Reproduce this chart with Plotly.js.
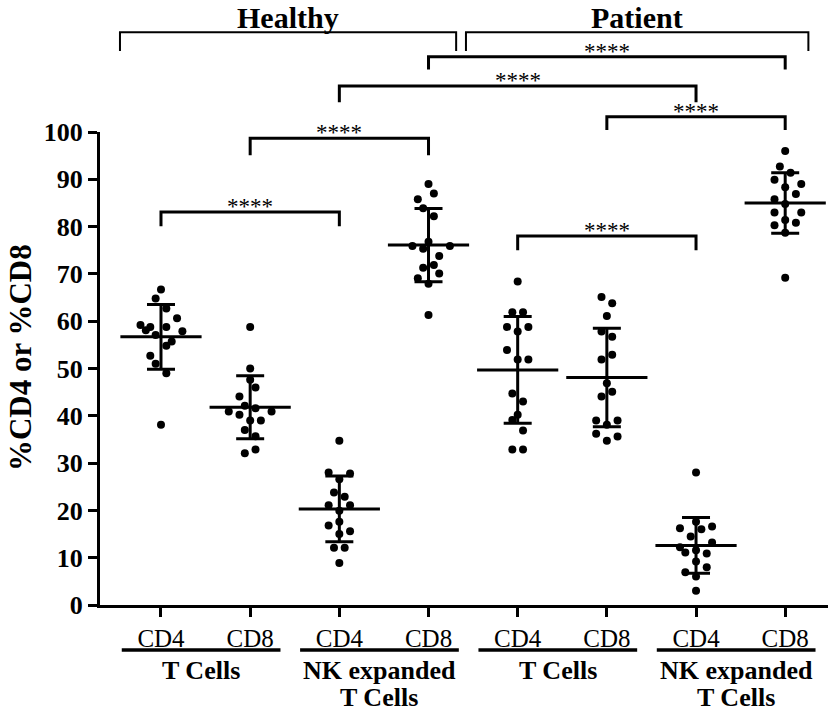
<!DOCTYPE html>
<html>
<head>
<meta charset="utf-8">
<script src="https://cdn.plot.ly/plotly-3.0.1.min.js"></script>
<style>
html,body{margin:0;padding:0;background:#fff;}
#chart{width:840px;height:713px;}
</style>
</head>
<body>
<div id="chart"></div>
<script>
// ---- Data ----
const categories = ['CD4', 'CD8', 'CD4', 'CD8', 'CD4', 'CD8', 'CD4', 'CD8'];
const cellTypesLine1 = ['T Cells', 'NK expanded', 'T Cells', 'NK expanded'];
const cellTypesLine2 = ['', 'T Cells', '', 'T Cells'];
const donorGroups = ['Healthy', 'Patient'];

const healthyTCD4 = [66.7, 64.8, 62.7, 59.2, 58.1, 58.8, 58.8, 60.6, 57.9, 57.1, 55.7, 54.8, 52.7, 51.0, 49.0, 38.1];
const healthyTCD8 = [58.8, 50.0, 47.6, 46.0, 44.1, 42.1, 41.6, 40.9, 40.9, 40.2, 39.0, 39.0, 37.0, 35.7, 32.1, 32.9];
const healthyNKCD4 = [34.7, 28.0, 27.8, 26.6, 23.8, 22.9, 21.1, 21.1, 19.9, 17.6, 16.8, 15.6, 15.0, 12.1, 12.1, 8.9];
const healthyNKCD8 = [89.0, 87.0, 85.8, 83.9, 82.2, 76.8, 75.9, 75.9, 75.3, 73.8, 71.3, 71.9, 70.1, 69.1, 67.9, 61.3];
const patientTCD4 = [68.4, 61.9, 61.9, 58.8, 58.8, 57.8, 53.9, 51.9, 51.9, 44.7, 43.0, 40.2, 39.1, 36.9, 32.9, 32.9];
const patientTCD8 = [65.1, 63.8, 61.1, 57.8, 56.7, 52.9, 51.9, 46.9, 45.1, 44.1, 39.0, 39.0, 38.1, 36.2, 35.6, 34.7];
const patientNKCD4 = [28.0, 17.6, 16.2, 16.0, 16.6, 14.5, 13.2, 12.2, 11.1, 11.6, 10.9, 9.2, 8.0, 6.9, 6.0, 3.0];
const patientNKCD8 = [96.0, 92.7, 91.4, 89.9, 89.0, 88.3, 86.9, 85.8, 84.8, 83.0, 83.0, 81.4, 80.3, 80.8, 78.7, 69.2];

// horizontal scatter offsets of the dots (category units)
const jitterHTCD4 = [0, -0.06, 0.06, -0.23, -0.17, -0.12, 0.06, 0.18, 0.24, -0.06, 0.12, 0.06, -0.12, -0.06, 0.06, 0];
const jitterHTCD8 = [0, 0, 0, 0.06, -0.12, -0.06, 0.06, 0.24, -0.24, -0.12, 0, 0.12, -0.06, 0.06, -0.06, 0.06];
const jitterHNCD4 = [0, -0.12, 0.12, 0, -0.06, 0.06, -0.12, 0.12, 0, 0, -0.12, 0.12, 0, -0.06, 0.06, 0];
const jitterHNCD8 = [0, 0.06, -0.12, -0.06, 0.06, 0, -0.18, 0.24, -0.06, 0.12, -0.06, 0.06, 0.12, -0.12, 0, 0];
const jitterPTCD4 = [0, -0.06, 0.06, -0.12, 0.12, 0, -0.12, 0, 0.12, -0.06, 0.06, 0, -0.06, 0.06, -0.06, 0.06];
const jitterPTCD8 = [-0.06, 0.06, 0, -0.06, 0.06, 0.06, -0.06, 0, 0.06, -0.06, -0.12, 0.12, 0, -0.12, 0.12, 0];
const jitterPNCD4 = [0, 0, -0.18, 0.06, 0.18, -0.06, 0.18, -0.18, -0.12, 0, 0.12, 0, 0.12, -0.12, 0, 0];
const jitterPNCD8 = [0, -0.06, 0.06, -0.12, 0.18, 0, 0.12, -0.12, 0, -0.12, 0.18, 0, -0.12, 0.12, 0, 0];

const groupMeans = [56.7, 41.8, 20.3, 76.1, 49.7, 48.1, 12.6, 85.0];
const groupSDs = [6.85, 6.65, 6.95, 7.75, 11.3, 10.4, 5.9, 6.4];

// significance comparisons: [from category, to category, bar level (%), leg bottom (%)]
const comparisons = [
  [0, 2, 83.1, 80.1],
  [4, 6, 78.0, 75.0],
  [1, 3, 98.7, 95.1],
  [5, 7, 103.2, 100.4],
  [2, 6, 109.7, 106.3],
  [3, 7, 115.9, 113.2]
];
const sigLabel = '****';

// ---- Build chart ----
const groupValues = [healthyTCD4, healthyTCD8, healthyNKCD4, healthyNKCD8, patientTCD4, patientTCD8, patientNKCD4, patientNKCD8];
const groupJitter = [jitterHTCD4, jitterHTCD8, jitterHNCD4, jitterHNCD8, jitterPTCD4, jitterPTCD8, jitterPNCD4, jitterPNCD8];
const catIdx = categories.map((_, i) => i);

const SERIF = 'Liberation Serif, Times New Roman, serif';
const traces = [];
groupValues.forEach((vals, g) => {
  traces.push({
    type: 'scatter', mode: 'markers',
    x: vals.map((_, k) => g + groupJitter[g][k]),
    y: vals,
    marker: {color: '#000', size: 8},
    cliponaxis: false,
    hoverinfo: 'y', showlegend: false
  });
});
traces.push({
  type: 'scatter', mode: 'markers',
  x: catIdx, y: groupMeans,
  marker: {symbol: 'line-ew', size: 58, color: '#000', line: {color: '#000', width: 3}},
  error_y: {type: 'data', array: groupSDs, visible: true, color: '#000', thickness: 3, width: 14},
  cliponaxis: false, showlegend: false, hoverinfo: 'y'
});

const YMAX = 100;
const toPaper = v => v / YMAX;
const shapes = [];
const annotations = [];

comparisons.forEach(([a, b, lvl, leg]) => {
  shapes.push({
    type: 'path', xref: 'x', yref: 'paper',
    path: `M ${a},${toPaper(leg)} L ${a},${toPaper(lvl)} L ${b},${toPaper(lvl)} L ${b},${toPaper(leg)}`,
    line: {color: '#000', width: 3}
  });
  annotations.push({
    xref: 'x', yref: 'paper', x: (a + b) / 2, y: toPaper(lvl),
    text: sigLabel, showarrow: false, yanchor: 'bottom', yshift: -9,
    font: {family: SERIF, size: 23, color: '#000'}
  });
});

// Healthy / Patient brackets
const donorSpans = [[-0.46, 3.31], [3.42, 7.26]];
donorSpans.forEach(([a, b], i) => {
  shapes.push({
    type: 'path', xref: 'x', yref: 'paper',
    path: `M ${a},${toPaper(117.1)} L ${a},${toPaper(121.1)} L ${b},${toPaper(121.1)} L ${b},${toPaper(117.1)}`,
    line: {color: '#000', width: 2}
  });
  annotations.push({
    xref: 'x', yref: 'paper', x: (a + b) / 2, y: 1.243,
    text: '<b>' + donorGroups[i] + '</b>', showarrow: false, yanchor: 'middle',
    font: {family: SERIF, size: 30, color: '#000'}
  });
});

// cell-type underlines and labels
cellTypesLine1.forEach((t, p) => {
  const mid = 2 * p + 0.45;
  shapes.push({
    type: 'line', xref: 'x', yref: 'paper',
    x0: mid - 0.89, x1: mid + 0.89, y0: -0.0951, y1: -0.0951,
    line: {color: '#000', width: 3.5}
  });
  annotations.push({
    xref: 'x', yref: 'paper', x: mid, y: -0.139,
    text: '<b>' + t + '</b>', showarrow: false, yanchor: 'middle',
    font: {family: SERIF, size: 26, color: '#000'}
  });
  if (cellTypesLine2[p]) {
    annotations.push({
      xref: 'x', yref: 'paper', x: mid, y: -0.195,
      text: '<b>' + cellTypesLine2[p] + '</b>', showarrow: false, yanchor: 'middle',
      font: {family: SERIF, size: 26, color: '#000'}
    });
  }
});

// y axis title
annotations.push({
  xref: 'paper', yref: 'paper', x: -0.11, y: 0.524,
  text: '<b>%CD4 or %CD8</b>', showarrow: false, textangle: -90,
  xanchor: 'center', yanchor: 'middle',
  font: {family: SERIF, size: 31, color: '#000'}
});

const layout = {
  width: 840, height: 713,
  margin: {l: 100, r: 12, t: 132, b: 108},
  paper_bgcolor: '#fff', plot_bgcolor: '#fff',
  showlegend: false,
  xaxis: {
    range: [-0.684, 7.48], showgrid: false, zeroline: false,
    showline: true, linecolor: '#000', linewidth: 3,
    ticks: 'outside', ticklen: 9, tickwidth: 3, tickcolor: '#000',
    tickvals: catIdx, ticktext: categories,
    tickfont: {family: SERIF, size: 25, color: '#000'}
  },
  yaxis: {
    range: [0, YMAX], showgrid: false, zeroline: false,
    showline: true, linecolor: '#000', linewidth: 3,
    ticks: 'outside', ticklen: 9, tickwidth: 3, tickcolor: '#000',
    tickvals: [0, 10, 20, 30, 40, 50, 60, 70, 80, 90, 100],
    tickfont: {family: SERIF, size: 26, color: '#000', weight: 'bold'}
  },
  shapes: shapes,
  annotations: annotations
};

Plotly.newPlot('chart', traces, layout, {displayModeBar: false, staticPlot: true});
</script>
</body>
</html>
